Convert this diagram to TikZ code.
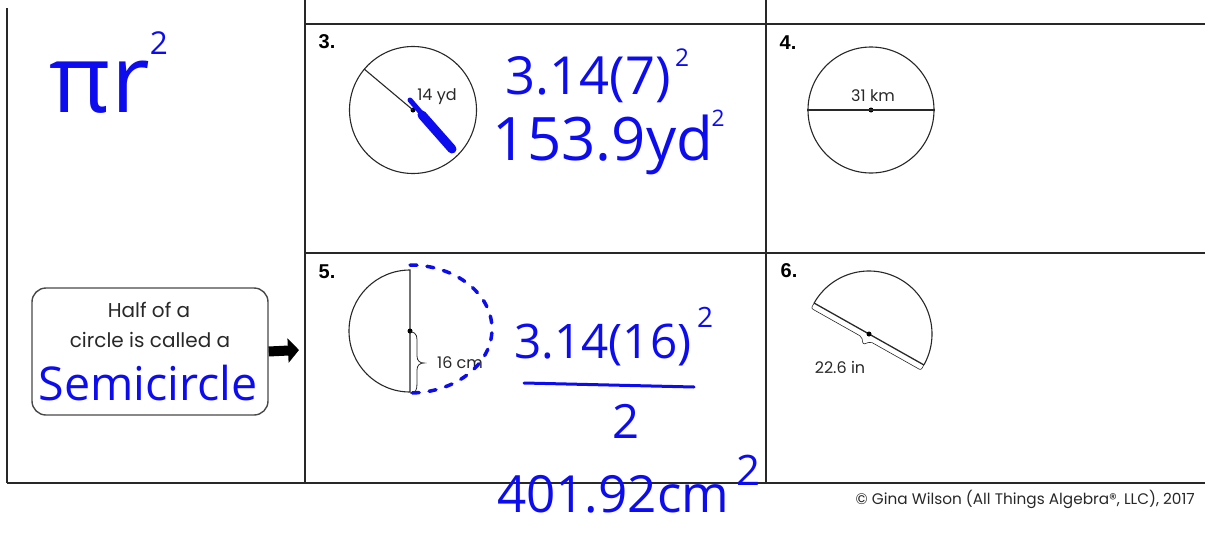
\documentclass[tikz,border=0pt]{standalone}
\usepackage{fontspec}
\usepackage{graphicx}
\setmainfont{Poppins}
\newfontfamily\lblfont{Liberation Sans}
\newfontfamily\hand{Open Sans}
\usetikzlibrary{arrows.meta}
\definecolor{hblue}{RGB}{12,12,238}
\definecolor{rule}{RGB}{40,40,40}
\newcommand{\handw}[2]{\resizebox{#1pt}{!}{\hand #2}}
\tikzset{
  grid line/.style={draw=rule, line width=1.8pt},
  shape line/.style={draw=rule, line width=1.1pt},
  probnum/.style={inner sep=0pt, font=\lblfont\bfseries\fontsize{20}{20}\selectfont},
  small lbl/.style={inner sep=0pt, font=\fontsize{16}{16}\selectfont, text=rule},
  hw/.style={inner sep=0pt, text=hblue},
  dotc/.style={fill=black, circle, inner sep=0pt, minimum size=5pt},
}
\begin{document}
\begin{tikzpicture}[x=1pt, y=-1pt]
\useasboundingbox (0,0) rectangle (1205,536);
% table
\draw[grid line] (7,8) -- (7,483);
\draw[grid line] (305,0) -- (305,483);
\draw[grid line] (766,0) -- (766,483);
\draw[grid line] (305,24) -- (1205,24);
\draw[grid line] (305,253) -- (1205,253);
\draw[grid line] (7,483) -- (1205,483);

% problem labels
\node[probnum] (n3) at (327,42) {3.};
\node[probnum] (n4) at (788,43) {4.};
\node[probnum] (n5) at (327,272) {5.};
\node[probnum] (n6) at (789,271) {6.};

% problem 3
\node[shape line, circle, minimum size=127pt, inner sep=0pt] (c3) at (413,110) {};
\node[dotc] (c3o) at (413,110) {};
\draw[shape line] (c3o.center) -- (c3.140);
\node[small lbl] (l3) at (437,97) {14 yd};
\draw[hblue, line width=5pt, line cap=round] (410,100) -- (453,150);
\draw[hblue, line width=9pt, line cap=round] (422,115) -- (452,149);

% problem 4
\node[shape line, circle, minimum size=126pt, inner sep=0pt] (c4) at (871,110) {};
\node[dotc] (c4o) at (871,110) {};
\draw[shape line] (c4.west) -- (c4.east);
\node[small lbl] (l4) at (873,96) {31 km};

% problem 5
\coordinate (c5) at (410,331);
\draw[shape line] (410,270) arc[start angle=-90, end angle=-270, radius=61] -- cycle;
\node[dotc] (c5o) at (c5) {};
\draw[rule, line width=0.8pt] (410,332) .. controls (418,332) and (417,338) .. (417,345) -- (417,356) .. controls (417,361) and (420,363) .. (424,363)
  .. controls (420,363) and (417,365) .. (417,370) -- (417,383) .. controls (417,390) and (416,393) .. (410,393);
\node[small lbl] (l5) at (460,363) {16 cm};
\draw[hblue, line width=3.5pt, line cap=round, dash pattern=on 7pt off 10pt] (410,265) arc[start angle=-90, end angle=90, x radius=82, y radius=64];

% problem 6
\begin{scope}[shift={(869,334)}, rotate=-29.4]
  \draw[shape line] (-63,0) arc[start angle=180, end angle=360, radius=63];
  \draw[rule, line width=1.3pt] (-63,0) -- (63,0);
  \draw[rule, line width=0.6pt, rounded corners=2pt] (-63,0) -- (-63,6) -- (-5,6) -- (0,12) -- (5,6) -- (63,6) -- (63,0);
  \node[dotc] (c6o) at (0,0) {};
\end{scope}
\node[small lbl] (l6) at (840,367) {22.6 in};

% left cell
\node[hw] (pir) at (100,87) {\handw{100}{πr}};
\node[hw] (pir2) at (159,43) {\handw{18}{2}};
\node[draw=rule!85, line width=1.4pt, rounded corners=14pt, minimum width=236pt, minimum height=127pt, inner sep=0pt] (box) at (150,351.5) {};
\node[inner sep=0pt, font=\fontsize{20}{20}\selectfont, text=rule] (t1) at (149,310) {Half of a};
\node[inner sep=0pt, font=\fontsize{20}{20}\selectfont, text=rule] (t2) at (150,340) {circle is called a};
\node[hw] (semi) at (148,383) {\handw{219}{Semicircle}};
\coordinate (arrowtip) at (299,350);
\draw[black, line width=10pt, -{Triangle[length=11pt, width=24pt]}] (box.east) -- (arrowtip);

% handwritten answers
\node[hw] (a3a) at (588,80) {\handw{165}{3.14(7)}};
\node[hw] (a3a2) at (682,58) {\handw{14}{2}};
\node[hw] (a3b) at (603,145) {\handw{220}{153.9yd}};
\node[hw] (a3b2) at (718,118) {\handw{13}{2}};
\node[hw] (a5a) at (603,345) {\handw{177}{3.14(16)}};
\node[hw] (a5a2) at (705,317) {\handw{16}{2}};
\draw[hblue, line width=3pt, line cap=round] (524,383) -- (694,387);
\node[hw] (a5b) at (626,421) {\handw{27}{2}};
\node[hw] (a5c) at (613,494) {\handw{232}{401.92cm}};
\node[hw] (a5c2) at (748,470) {\handw{24}{2}};

% footer
\node[inner sep=0pt, anchor=east, font=\fontsize{15.3}{15.3}\selectfont, text=rule] (copy) at (1195,499) {© Gina Wilson (All Things Algebra®, LLC), 2017};
\end{tikzpicture}
\end{document}
